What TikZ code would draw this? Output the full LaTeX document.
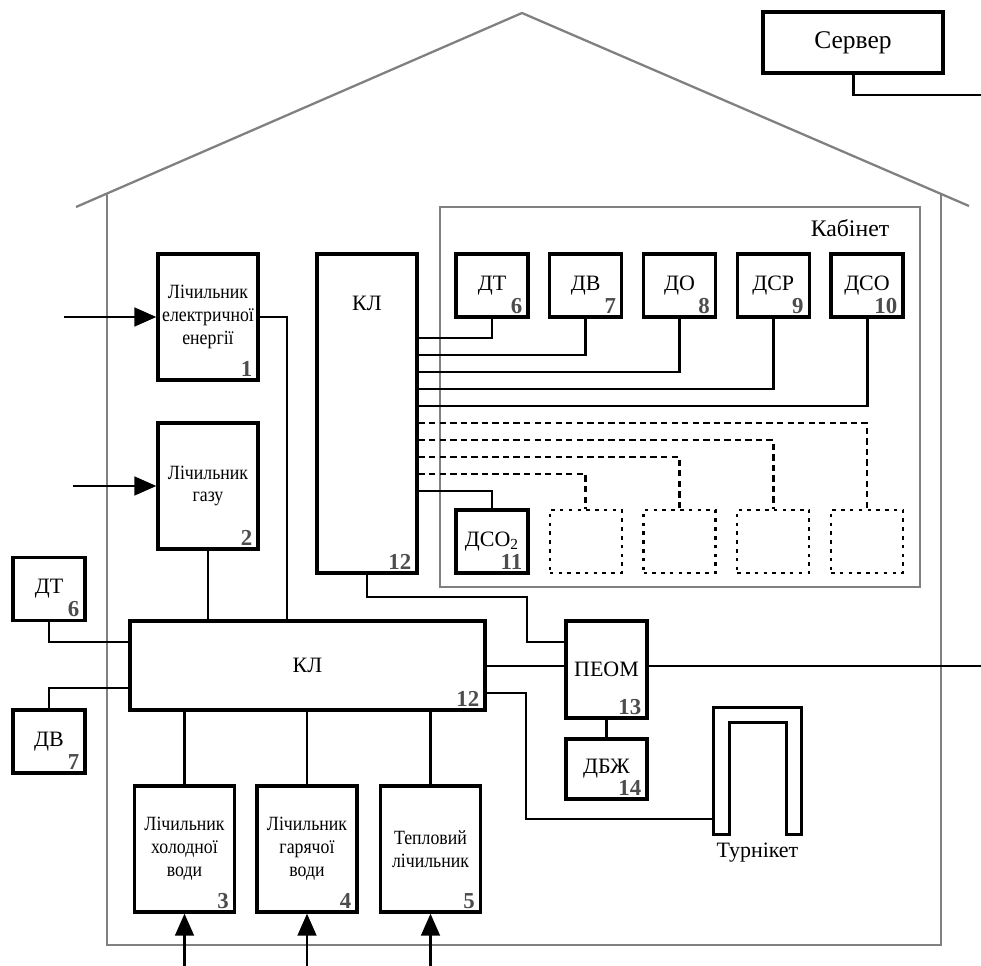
\documentclass[tikz,border=0pt]{standalone}
\usepackage{fontspec}
\setmainfont{Liberation Serif}
\newfontfamily\condfont[FakeStretch=0.88]{Liberation Serif}
\usetikzlibrary{arrows.meta,calc}

\begin{document}
\begin{tikzpicture}[
  x=0.02cm,y=-0.02cm,
  b/.style={draw,line width=1.8pt,inner sep=0pt,align=center,font=\fontsize{12.5}{14}\selectfont},
  meter/.style={b,minimum width=2cm,minimum height=2.52cm,font=\condfont\fontsize{11.5}{13}\selectfont},
  sensor/.style={b,minimum width=1.44cm,minimum height=1.26cm},
  spare/.style={sensor,line width=1.3pt,dash pattern=on 2pt off 3pt},
  num/.style={anchor=south east,inner sep=0pt,xshift=-0.14cm,yshift=0.1cm,font=\fontsize{13}{13}\selectfont\bfseries,text=black!70},
  idx/.style={label={[num]south east:#1}},
  wire/.style={line width=1.7pt},
  dwire/.style={wire,line width=1.5pt,dash pattern=on 3.6pt off 2.4pt},
  arr/.style={wire,-{Triangle[length=12.5pt,width=10.5pt]}},
  wall/.style={draw=black!50,line width=1.3pt}
]
\useasboundingbox (0,0) rectangle (981,966);

% house and cabinet
\draw[wall] (76,207) -- (522,13) -- (969,206);
\draw[wall] (107,193) -- (107,945) -- (941,945) -- (941,193);
\draw[wall] (440,207) rectangle (920,587);
\node[font=\fontsize{13.5}{15}\selectfont] (cab) at (850,228) {Кабінет};

\node[b,minimum width=3.6cm,minimum height=1.22cm,font=\fontsize{14.5}{16}\selectfont] (srv) at (853,42.5) {Сервер};

% meters
\node[meter,idx=1] (el) at (208,317) {Лічильник\\електричної\\енергії};
\node[meter,idx=2] (gas) at (208,486) {Лічильник\\газу};
\node[meter,idx=3] (cw) at (184.5,849) {Лічильник\\холодної\\води};
\node[meter,idx=4] (hw) at (307,849) {Лічильник\\гарячої\\води};
\node[meter,idx=5] (heat) at (430.5,849) {Тепловий\\лічильник};

% controllers
\node[b,minimum width=2cm,minimum height=6.38cm,idx=12,
  label={[anchor=center,yshift=-1.02cm,font=\fontsize{12.5}{14}\selectfont]north:КЛ}] (klc) at (367,413.5) {};
\node[b,minimum width=7.1cm,minimum height=1.78cm,idx=12] (kl) at (307.5,665.5) {КЛ};

% sensors in the cabinet
\foreach \nm/\txt/\k [count=\i] in {dt/ДТ/6,dv/ДВ/7,do/ДО/8,dsr/ДСР/9,dso/ДСО/10}
  \node[sensor,idx=\k] (\nm) at ({492+93.75*(\i-1)},285.5) {\txt};
\node[sensor,idx=11] (dco) at (492,541.5) {ДСО\textsubscript{2}};
\foreach \i in {2,...,5}
  \node[spare] (s\i) at ({492+93.75*(\i-1)},541.5) {};

% sensors outside
\node[sensor,idx=6] (dtl) at (49,589) {ДТ};
\node[sensor,idx=7] (dvl) at (49,741.5) {ДВ};

\node[b,minimum width=1.62cm,minimum height=1.94cm,idx=13] (pc) at (606.5,669.5) {ПЕОМ};
\node[b,minimum width=1.62cm,minimum height=1.2cm,idx=14] (ups) at (606.5,769) {ДБЖ};

% turnstile
\node[minimum width=1.74cm,minimum height=2.52cm,inner sep=0pt] (turn) at (757.5,771) {};
\draw[line width=1.8pt] (turn.south west) |- (turn.north east) -- (turn.south east) -- ++(-15,0)
  |- ($(turn.north west)+(16,15)$) -- ($(turn.south west)+(16,0)$) -- cycle;
\node[font=\fontsize{12.5}{14}\selectfont] (turnlbl) at (757.5,853) {Турнікет};

% free ends
\coordinate (in1) at (64,317);
\coordinate (in2) at (73,486);
\coordinate (in3) at (184.5,966);
\coordinate (in4) at (307,966);
\coordinate (in5) at (430.5,966);
\coordinate (srvnet) at (981,95);
\coordinate (pcnet) at (981,666);

% links
\foreach \nm/\y in {dt/338,dv/355,do/372,dsr/389,dso/406}
  \draw[wire] (klc.east |- 0,\y) -| (\nm);
\foreach \nm/\y in {s5/423,s4/440,s3/457,s2/474}
  \draw[dwire] (klc.east |- 0,\y) -| (\nm);
\draw[wire] (klc.east |- 0,491) -| (dco);

\draw[arr] (in1) -- (el);
\draw[arr] (in2) -- (gas);
\draw[arr] (in3) -- (cw);
\draw[arr] (in4) -- (hw);
\draw[arr] (in5) -- (heat);

\draw[wire] (el) -| (kl.north -| 287,0);
\draw[wire] (gas) -- (kl.north -| gas);
\draw[wire] (cw) -- (kl.south -| cw);
\draw[wire] (hw) -- (kl.south -| hw);
\draw[wire] (heat) -- (kl.south -| heat);
\draw[wire] (dtl) |- (kl.west |- 0,642);
\draw[wire] (dvl) |- (kl.west |- 0,688);

\draw[wire] (klc) |- (527,597) |- (pc.west |- 0,642);
\draw[wire] (kl.east |- pcnet) -- (pc.west |- pcnet);
\draw[wire] (pc.east |- pcnet) -- (pcnet);
\draw[wire] (pc) -- (ups);
\draw[wire] (kl.east |- 0,693) -| (526,819) -- (turn.west |- 0,819);
\draw[wire] (srv) |- (srvnet);
\end{tikzpicture}
\end{document}
